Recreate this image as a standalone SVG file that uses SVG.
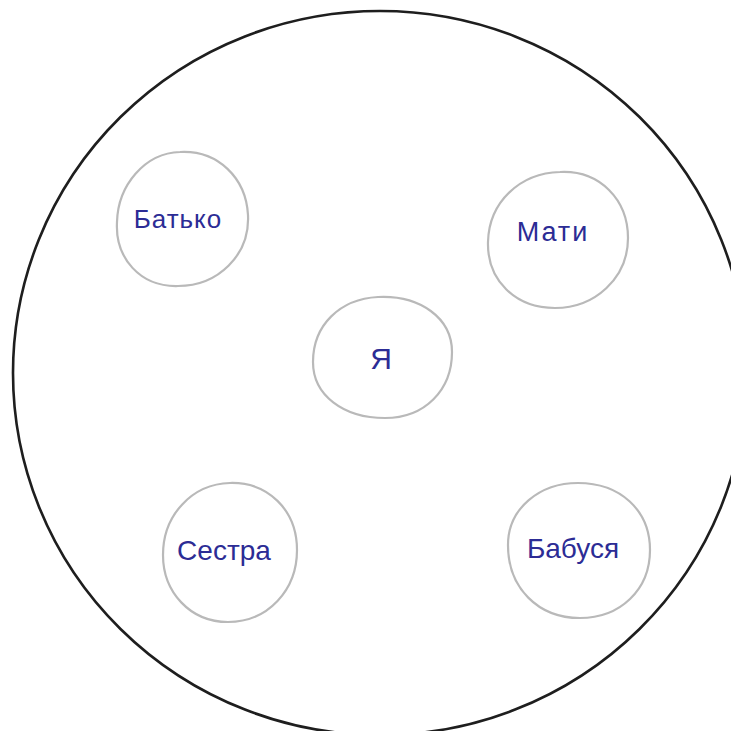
<svg xmlns="http://www.w3.org/2000/svg" width="731" height="731" viewBox="0 0 731 731">
<style>
.big{fill:none;stroke:#1e1e1e;stroke-width:2.6}
.blob{fill:none;stroke:#b9b9b9;stroke-width:2.2;stroke-linejoin:round}
.lbl{font-family:"Liberation Sans","DejaVu Sans",sans-serif;fill:#2c2c95;text-anchor:middle;dominant-baseline:central}
</style>
<rect width="731" height="731" fill="#ffffff"/>
<ellipse class="big" cx="380" cy="373" rx="367" ry="362"/>
<g id="batko">
<path class="blob" d="M 180 152 C 218 150, 246 178, 248 215 C 250 255, 218 286, 178 286 C 140 287, 115 258, 117 222 C 118 185, 145 153, 180 152 Z"/>
<text class="lbl" x="178" y="219" font-size="26" letter-spacing="1">Батько</text>
</g>
<g id="maty">
<path class="blob" d="M 560 172 C 600 170, 628 200, 628 238 C 628 278, 595 308, 555 308 C 515 308, 487 280, 488 242 C 489 202, 520 173, 560 172 Z"/>
<text class="lbl" x="553" y="232" font-size="27" letter-spacing="2">Мати</text>
</g>
<g id="ya">
<path class="blob" d="M 378 297 C 420 295, 452 318, 452 352 C 452 390, 425 418, 385 418 C 343 418, 313 395, 313 362 C 313 325, 340 299, 378 297 Z"/>
<text class="lbl" x="381" y="358" font-size="30">Я</text>
</g>
<g id="sestra">
<path class="blob" d="M 230 483 C 268 482, 297 510, 297 550 C 297 590, 268 622, 228 622 C 190 622, 163 592, 163 555 C 163 515, 192 484, 230 483 Z"/>
<text class="lbl" x="224" y="550" font-size="28">Сестра</text>
</g>
<g id="babusia">
<path class="blob" d="M 578 483 C 620 483, 650 510, 650 550 C 650 590, 620 618, 580 618 C 538 618, 508 588, 508 545 C 508 508, 540 483, 578 483 Z"/>
<text class="lbl" x="573" y="548" font-size="28">Бабуся</text>
</g>
<g id="connectors"></g>
</svg>
